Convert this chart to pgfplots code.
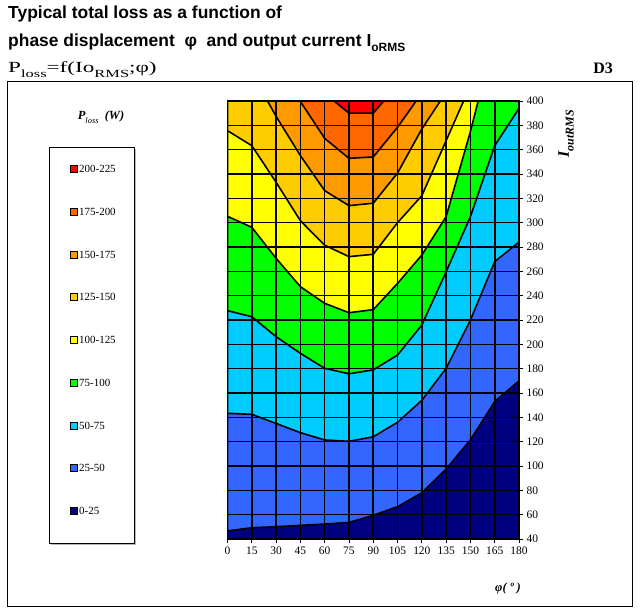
\documentclass[border=0pt]{standalone}
\usepackage{fontspec}
\setmainfont{Liberation Serif}
\newfontfamily\arial{Liberation Sans}
\usepackage{graphicx}
\usepackage{pgfplots}
\pgfplotsset{compat=1.18}

% band colours (Excel contour palette)
\definecolor{c0}{HTML}{000080}
\definecolor{c25}{HTML}{3366FF}
\definecolor{c50}{HTML}{00CCFF}
\definecolor{c75}{HTML}{00FF00}
\definecolor{c100}{HTML}{FFFF00}
\definecolor{c125}{HTML}{FFCC00}
\definecolor{c150}{HTML}{FF9900}
\definecolor{c175}{HTML}{FF6600}
\definecolor{c200}{HTML}{FF0000}

\newcommand{\sub}[2]{\raisebox{-0.3em}{\fontsize{#1}{#1}\selectfont #2}}

\begin{document}
\begin{tikzpicture}
\begin{scope}[x=1bp,y=-1bp]
  \useasboundingbox (0,0) rectangle (641,616);
  \node[anchor=base west, inner sep=0, font=\arial\bfseries\fontsize{17.5}{20}\selectfont] at (8,18.5) {Typical total loss as a function of};
  \node[anchor=base west, inner sep=0, font=\arial\bfseries\fontsize{17.5}{20}\selectfont] at (8,46.5) {phase displacement\ \ φ\ \ and output current I\sub{12}{oRMS}};
  \node[anchor=base west, inner sep=0, font=\fontsize{15.5}{18}\selectfont] at (8,73) {\scalebox{1.5}[1]{P\sub{11}{loss}=f(Io\sub{11}{RMS};φ)}};
  \node[anchor=base east, inner sep=0, font=\bfseries\fontsize{16}{18}\selectfont] at (613,74) {D3};
  \draw[line width=1bp] (7,82) rectangle (632,606);
  % legend
  \node[font=\bfseries\itshape\fontsize{12.5}{14}\selectfont] at (101,117) {P\sub{8.5}{\mdseries loss} \ (W)};
  \fill[gray!55] (51,149) rectangle (136,545);
  \draw[fill=white, line width=0.8bp] (49,147) rectangle (134,543);
  \foreach \lab/\col [count=\i from 0] in {200-225/c200,175-200/c175,150-175/c150,125-150/c125,100-125/c100,75-100/c75,50-75/c50,25-50/c25,0-25/c0}{
    \draw[fill=\col, line width=0.8bp] (70,{169+42.75*\i-3.5}) rectangle ++(7,7);
    \node[anchor=west, inner sep=0, font=\fontsize{11}{13}\selectfont] at (79,{169+42.75*\i}) {\lab};
  }
  \node[rotate=90, font=\bfseries\itshape\fontsize{16}{18}\selectfont] at (566,134) {I\sub{12}{outRMS}};
  \node[font=\bfseries\itshape\fontsize{12.5}{14}\selectfont] at (508,588) {φ( º )};
\end{scope}

\begin{axis}[
    at={(227.5bp,-539bp)}, anchor=south west,
    scale only axis, width=291.5bp, height=438bp,
    xmin=0, xmax=180, ymin=40, ymax=400,
    xtick={0,15,...,180}, ytick={40,60,...,400},
    xtick pos=left, ytick pos=right,
    xticklabel pos=left, yticklabel pos=right,
    tick align=outside, major tick length=4bp,
    grid=major, grid style={black, line width=1.6bp},
    axis line style={black, line width=1.4bp},
    tick style={black, line width=0.9bp},
    ticklabel style={font=\fontsize{11.5}{13}\selectfont},
    /pgf/number format/assume math mode=true,
    no markers, axis on top,
  ]
  \addplot[fill=c0, draw=none] coordinates {(0,40) (180,40) (180,400) (0,400)} --cycle;
  \addplot[fill=c25, draw=black, line width=1.6bp] coordinates {
    (0,46.6) (15,49.3) (30,50.1) (45,51.2) (60,52.3) (75,53.6) (90,59.5) (105,66.6)
    (120,78) (135,97.5) (150,121.5) (165,153) (180,170) (180,400) (0,400)} --cycle;
  \addplot[fill=c50, draw=black, line width=1.6bp] coordinates {
    (0,143.3) (15,142.5) (30,135) (45,127.4) (60,121.4) (75,120.3) (90,124) (105,136)
    (120,154) (135,180.3) (150,220) (165,268) (180,284) (180,400) (0,400)} --cycle;
  \addplot[fill=c75, draw=black, line width=1.6bp] coordinates {
    (0,227.7) (15,222.7) (30,206.3) (45,192.6) (60,180.3) (75,175.8) (90,179) (105,191.2)
    (120,215.9) (135,259.7) (150,305) (165,363.3) (180,394) (180,400) (0,400)} --cycle;
  \addplot[fill=c100, draw=black, line width=1.6bp] coordinates {
    (0,305.2) (15,296.2) (30,270.7) (45,247.4) (60,233.7) (75,226) (90,228.5) (105,250.1)
    (120,273.4) (135,305) (150,375) (154.8,400) (0,400)} --cycle;
  \addplot[fill=c125, draw=black, line width=1.6bp] coordinates {
    (0,375.6) (15,363.3) (30,333.2) (45,301.6) (60,281.5) (75,272.1) (90,274) (105,300)
    (120,322.2) (135,367.4) (145.8,400) (0,400)} --cycle;
  \addplot[fill=c150, draw=black, line width=1.6bp] coordinates {
    (24.7,400) (30,387.4) (45,355.1) (60,326.3) (75,314) (90,316) (105,340.8) (120,377) (131.4,400)} --cycle;
  \addplot[fill=c175, draw=black, line width=1.6bp] coordinates {
    (44.8,400) (60,369.3) (75,352.9) (90,354) (105,378.4) (116.5,400)} --cycle;
  \addplot[fill=c200, draw=black, line width=1.6bp] coordinates {
    (65.8,400) (75,390) (90,390) (96.4,400)} --cycle;
\end{axis}
\end{tikzpicture}
\end{document}
